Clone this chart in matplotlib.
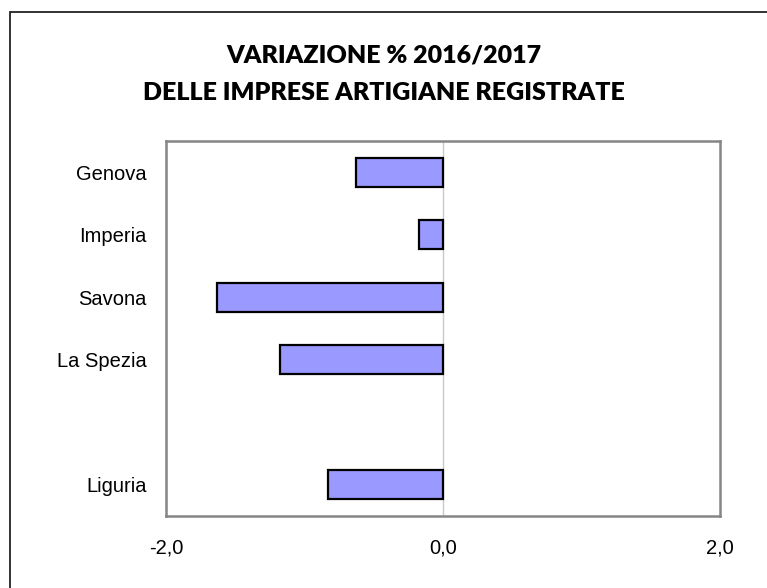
import matplotlib.pyplot as plt
import numpy as np
from matplotlib.patches import Rectangle

# data (blank slot between La Spezia and Liguria)
categories = ["Genova", "Imperia", "Savona", "La Spezia", "", "Liguria"]
values = [-0.63, -0.17, -1.63, -1.18, np.nan, -0.83]
x_ticks = [-2.0, 0.0, 2.0]

W, H = 767, 588
fig = plt.figure(figsize=(W / 100, H / 100), dpi=100)
ax = fig.add_axes([166 / W, 1 - 516 / H, (720 - 166) / W, (516 - 141) / H])

pos = np.arange(len(categories))
ax.barh(pos, values, height=0.47, color="#9999ff", edgecolor="black", linewidth=1.6, zorder=3)
ax.axvline(0, color="#c8c8c8", linewidth=1, zorder=1)

ax.set_xlim(-2, 2)
ax.set_ylim(len(categories) - 0.5, -0.5)
ax.set_yticks(pos)
ax.set_yticklabels(categories, fontfamily="Liberation Sans", fontsize=14.5)
ax.set_xticks(x_ticks)
ax.set_xticklabels([f"{v:.1f}".replace(".", ",") for v in x_ticks],
                   fontfamily="Liberation Sans", fontsize=14.5)
ax.tick_params(length=0)
ax.tick_params(axis="x", pad=16)
ax.tick_params(axis="y", pad=14)
for s in ax.spines.values():
    s.set_color("#858585")
    s.set_linewidth(1.8)

fig.text(0.5, 1 - 55 / H, "VARIAZIONE % 2016/2017", ha="center", va="center",
         fontfamily="Lato", fontweight="heavy", fontsize=18)
fig.text(0.5, 1 - 93 / H, "DELLE IMPRESE ARTIGIANE REGISTRATE", ha="center", va="center",
         fontfamily="Lato", fontweight="heavy", fontsize=18)

# outer chart border (cut off on the right and bottom in the reference)
fig.patches.append(Rectangle((10 / W, -0.05), 1.1, 1 - 12 / H + 0.05, transform=fig.transFigure,
                             fill=False, edgecolor="#222222", linewidth=1.3))

fig.savefig("out.png", dpi=100)
